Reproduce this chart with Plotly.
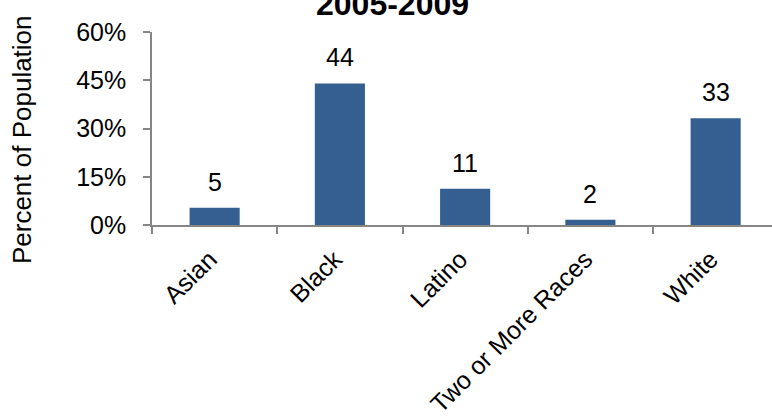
import plotly.graph_objects as go

categories = ["Asian", "Black", "Latino", "Two or More Races", "White"]
values = [5.4, 44.0, 11.3, 1.6, 33.2]  # percent of population
labels = [str(int(round(v))) for v in values]
y_ticks = [0, 15, 30, 45, 60]
y_tick_text = [f"{t}%" for t in y_ticks]
title_text = "2005-2009"
y_title = "Percent of Population"

FONT = "Liberation Sans, Arial, sans-serif"
BAR = "#365F91"
AXIS = "#868686"

fig = go.Figure()
fig.add_trace(go.Bar(
    x=categories, y=values, width=0.4,
    marker=dict(color=BAR, line=dict(width=0)),
    hoverinfo="skip",
))

annotations = []
for c, v, t in zip(categories, values, labels):
    annotations.append(dict(x=c, y=v, xref="x", yref="y", text=t, showarrow=False,
                            yanchor="bottom", yshift=10,
                            font=dict(family=FONT, size=25, color="#000000")))
annotations.append(dict(x=(392 - 152) / 620, y=1.041, xref="paper", yref="paper",
                        text=f"<b>{title_text}</b>", showarrow=False,
                        xanchor="center", yanchor="bottom",
                        font=dict(family=FONT, size=32, color="#000000")))
annotations.append(dict(x=0, y=0.44, xref="paper", yref="paper", xshift=-130,
                        text=y_title, textangle=-90, showarrow=False,
                        xanchor="center", yanchor="middle",
                        font=dict(family=FONT, size=26, color="#000000")))

fig.update_layout(
    width=772, height=418,
    margin=dict(l=152, r=0, t=32, b=193, pad=0),
    paper_bgcolor="white", plot_bgcolor="white",
    showlegend=False,
    bargap=0.6,
    annotations=annotations,
    xaxis=dict(
        type="category", range=[-0.5, 4.45],
        showline=True, linecolor=AXIS, linewidth=1.5,
        ticks="outside", tickson="boundaries", ticklen=7, tickcolor=AXIS, tickwidth=1.5,
        tickangle=-45, tickfont=dict(family=FONT, size=25, color="#000000"),
        ticklabelstandoff=8, ticklabelshift=-5,
        showgrid=False, zeroline=False, automargin=False,
    ),
    yaxis=dict(
        range=[0, 60],
        tickvals=y_ticks, ticktext=y_tick_text,
        showline=True, linecolor=AXIS, linewidth=1.5,
        ticks="outside", ticklen=7, tickcolor=AXIS, tickwidth=1.5,
        ticklabelstandoff=12,
        tickfont=dict(family=FONT, size=25, color="#000000"),
        showgrid=False, zeroline=False, automargin=False,
    ),
)

fig.write_html("out.html", config={"displayModeBar": False},
               post_script="document.body.style.margin='0';")
